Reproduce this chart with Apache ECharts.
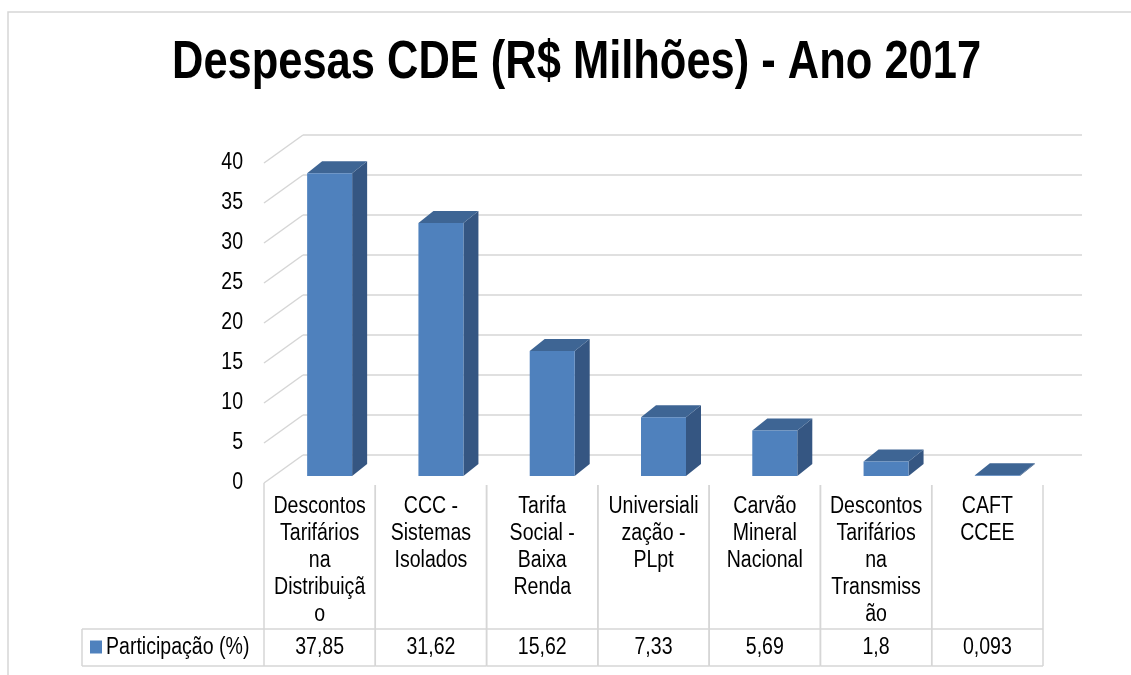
<!DOCTYPE html>
<html>
<head>
<meta charset="utf-8">
<script src="https://cdn.jsdelivr.net/npm/echarts@6/dist/echarts.min.js"></script>
<style>
  html, body { margin: 0; padding: 0; background: #fff; }
  #chart { width: 1131px; height: 675px; }
</style>
</head>
<body>
<div id="chart"></div>
<script>
// dados do gráfico
var categories = [
    'Descontos\nTarifários\nna\nDistribuiçã\no',
    'CCC -\nSistemas\nIsolados',
    'Tarifa\nSocial -\nBaixa\nRenda',
    'Universiali\nzação -\nPLpt',
    'Carvão\nMineral\nNacional',
    'Descontos\nTarifários\nna\nTransmiss\não',
    'CAFT\nCCEE'
];
var values = [37.85, 31.62, 15.62, 7.33, 5.69, 1.8, 0.093];
var yTicks = [0, 5, 10, 15, 20, 25, 30, 35, 40];
var seriesName = 'Participação (%)';
var titleText = 'Despesas CDE (R$ Milhões) - Ano 2017';

// sem Arial Narrow: Liberation Sans comprimida na horizontal
var FONT = "'Liberation Sans', Arial, sans-serif";
var NARROW = 0.85;
var LINE = '#d6d6d6';
var DEPTH = [39, -28];      // profundidade da parede
var BAR_OFF = [10, -7];     // face frontal da barra
var BAR_DEPTH = [15, -12];  // profundidade da barra
var BAR_W = 45;

var chart = echarts.init(document.getElementById('chart'), null, { renderer: 'canvas' });

function label(text, x, y, align, vAlign, extra) {
    var st = { text: text, align: align, verticalAlign: vAlign, fontSize: 23, fontFamily: FONT, fill: '#000' };
    if (extra) for (var k in extra) st[k] = extra[k];
    return { type: 'text', x: x, y: y, scaleX: NARROW, style: st };
}

function renderWall(params, api) {
    var p = api.coord([0, api.value(1)]);
    var x = params.coordSys.x;
    return {
        type: 'group',
        children: [
            { type: 'line', shape: { x1: x, y1: p[1], x2: x + DEPTH[0], y2: p[1] + DEPTH[1] },
              style: { stroke: LINE, lineWidth: 1.5 } },
            label(String(api.value(1)), x - 21, p[1], 'right', 'middle')
        ]
    };
}

function renderBar(params, api) {
    var i = api.value(0);
    var base = api.coord([i, 0]);
    var top = api.coord([i, api.value(1)]);
    var xl = base[0] - BAR_W / 2 + BAR_OFF[0], xr = xl + BAR_W;
    var yb = base[1] + BAR_OFF[1], yt = top[1] + BAR_OFF[1];
    var dx = BAR_DEPTH[0], dy = BAR_DEPTH[1];
    return {
        type: 'group',
        children: [
            { type: 'polygon', shape: { points: [[xr, yt], [xr + dx, yt + dy], [xr + dx, yb + dy], [xr, yb]] },
              style: { fill: '#355682' } },
            { type: 'polygon', shape: { points: [[xl, yt], [xl + dx, yt + dy], [xr + dx, yt + dy], [xr, yt]] },
              style: { fill: '#3e6594' } },
            { type: 'rect', shape: { x: xl, y: yt, width: BAR_W, height: yb - yt },
              style: { fill: '#4f81bd' } }
        ]
    };
}

function renderTable(params, api) {
    var i = api.value(0);
    var c = api.coord([i, 0]);
    var w = api.size([1, 0])[0];
    var x0 = c[0] - w / 2, x1 = c[0] + w / 2;
    var top = c[1] + (i === 0 ? 0 : 2), rowTop = c[1] + 146, rowBot = c[1] + 183;
    var midRow = (rowTop + rowBot) / 2;
    var st = { stroke: LINE, lineWidth: 1.5 };
    var kids = [
        { type: 'line', shape: { x1: x0, y1: top, x2: x0, y2: rowBot }, style: st },
        { type: 'line', shape: { x1: x1, y1: c[1] + 2, x2: x1, y2: rowBot }, style: st },
        { type: 'line', shape: { x1: x0, y1: rowTop, x2: x1, y2: rowTop }, style: st },
        { type: 'line', shape: { x1: x0, y1: rowBot, x2: x1, y2: rowBot }, style: st },
        label(categories[i], c[0], c[1] + 10, 'center', 'top', { lineHeight: 27 }),
        label(String(values[i]).replace('.', ','), c[0], midRow, 'center', 'middle')
    ];
    if (i === 0) {
        // coluna da legenda
        kids.push(
            { type: 'line', shape: { x1: 82, y1: rowTop, x2: x0, y2: rowTop }, style: st },
            { type: 'line', shape: { x1: 82, y1: rowBot, x2: x0, y2: rowBot }, style: st },
            { type: 'line', shape: { x1: 82, y1: rowTop, x2: 82, y2: rowBot }, style: st },
            { type: 'rect', shape: { x: 90, y: midRow - 7, width: 12, height: 13 }, style: { fill: '#4f81bd' } },
            label(seriesName, 106, midRow, 'left', 'middle')
        );
    }
    return { type: 'group', children: kids };
}

chart.setOption({
    animation: false,
    backgroundColor: '#fff',
    graphic: [{
        type: 'rect', silent: true,
        shape: { x: 8, y: 12, width: 1300, height: 800 },
        style: { fill: 'none', stroke: LINE, lineWidth: 1.5 }
    }, {
        type: 'text', silent: true, x: 172, y: 37, scaleX: 0.82,
        style: { text: titleText, fontSize: 53, fontWeight: 'bold', fontFamily: FONT, fill: '#000',
                 align: 'left', verticalAlign: 'top' }
    }],
    grid: [
        { left: 264, top: 163, width: 779, height: 320 },
        { left: 264 + DEPTH[0], top: 163 + DEPTH[1], width: 779, height: 320 }
    ],
    xAxis: [{
        type: 'category', gridIndex: 0, data: categories,
        axisLine: { show: false }, axisTick: { show: false }, axisLabel: { show: false }
    }, {
        type: 'category', gridIndex: 1, data: categories, show: false
    }],
    yAxis: [{
        type: 'value', gridIndex: 0, min: 0, max: 40, interval: 5,
        axisLine: { show: false }, axisTick: { show: false }, splitLine: { show: false },
        axisLabel: { show: false }
    }, {
        type: 'value', gridIndex: 1, min: 0, max: 40, interval: 5,
        axisLine: { show: false }, axisTick: { show: false }, axisLabel: { show: false },
        splitLine: { lineStyle: { color: LINE, width: 1.5 } }
    }],
    series: [{
        type: 'custom', name: 'parede', xAxisIndex: 0, yAxisIndex: 0, silent: true,
        data: yTicks.map(function (v) { return [0, v]; }),
        encode: { x: 0, y: 1 },
        renderItem: renderWall
    }, {
        type: 'custom', name: seriesName, xAxisIndex: 0, yAxisIndex: 0,
        itemStyle: { color: '#4f81bd' },
        data: values.map(function (v, i) { return [i, v]; }),
        encode: { x: 0, y: 1 },
        renderItem: renderBar
    }, {
        type: 'custom', name: 'tabela', xAxisIndex: 0, yAxisIndex: 0, silent: true,
        data: values.map(function (v, i) { return [i, v]; }),
        encode: { x: 0, y: 1 },
        renderItem: renderTable
    }]
});
</script>
</body>
</html>
